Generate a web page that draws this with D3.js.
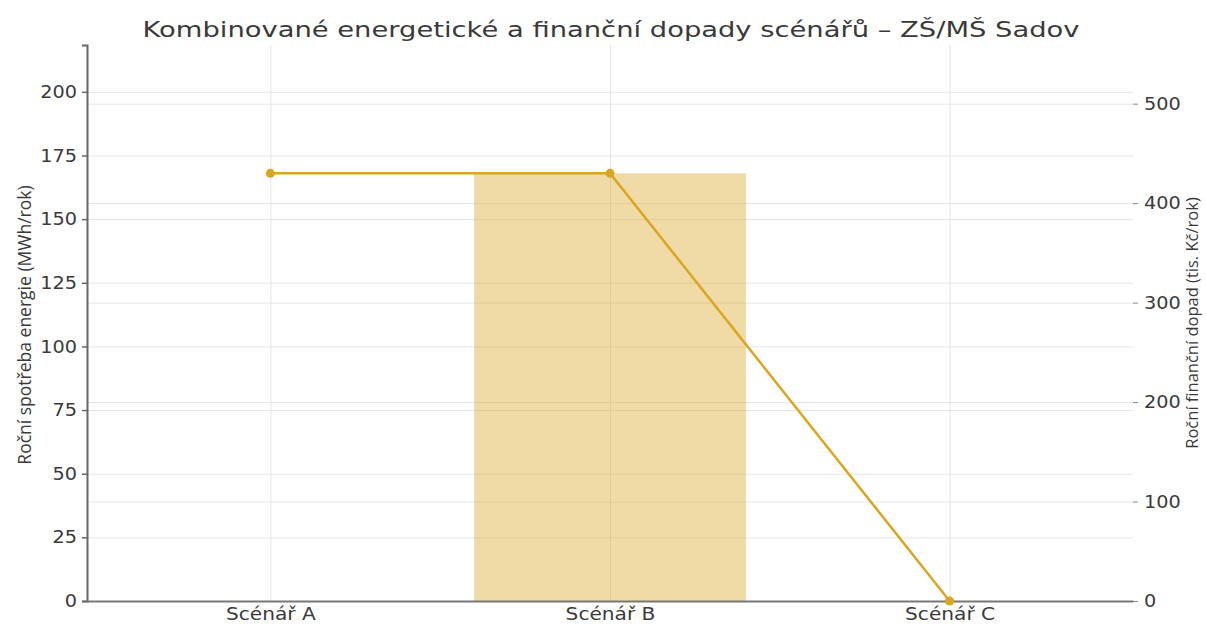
<!DOCTYPE html>
<html><head><meta charset="utf-8">
<script src="https://cdn.jsdelivr.net/npm/d3@7"></script>
<style>body{margin:0;background:#fff;} svg{display:block;font-family:"DejaVu Sans",sans-serif;}</style>
</head><body>
<svg id="chart" width="1206" height="624"></svg>
<script>
const categories = ["Scénář A", "Scénář B", "Scénář C"];
const energyValues = [0, 168, 0];          // MWh/rok (bars, left axis)
const financeValues = [430, 430, 0];       // tis. Kč/rok (line, right axis)
const leftTicks = [0, 25, 50, 75, 100, 125, 150, 175, 200];
const rightTicks = [0, 100, 200, 300, 400, 500];
const title = "Kombinované energetické a finanční dopady scénářů – ZŠ/MŠ Sadov";
const leftLabel = "Roční spotřeba energie (MWh/rok)";
const rightLabel = "Roční finanční dopad (tis. Kč/rok)";

const svg = d3.select("#chart");
const m = {left: 87, right: 1133, top: 45, bottom: 601};

const x = d3.scaleLinear().domain([-0.54, 2.54]).range([m.left, m.right]);
const yL = d3.scaleLinear().domain([0, d3.max(energyValues) * 1.3]).range([m.bottom, m.top]);
const yR = d3.scaleLinear().domain([0, d3.max(financeValues) * 1.3]).range([m.bottom, m.top]);

function stretch(sel, k) {
  sel.each(function () {
    const w = this.getComputedTextLength();
    d3.select(this).attr("textLength", w * k).attr("lengthAdjust", "spacingAndGlyphs");
  });
}

const grid = svg.append("g").attr("stroke", "#e6e6e6").attr("stroke-width", 1);
grid.selectAll(".gl").data(leftTicks).join("line")
  .attr("x1", m.left).attr("x2", m.right)
  .attr("y1", d => yL(d) + 0.5).attr("y2", d => yL(d) + 0.5);
grid.selectAll(".gr").data(rightTicks).join("line")
  .attr("x1", m.left).attr("x2", m.right)
  .attr("y1", d => yR(d) + 0.5).attr("y2", d => yR(d) + 0.5);
grid.selectAll(".gv").data(categories).join("line")
  .attr("x1", (d, i) => x(i) + 0.5).attr("x2", (d, i) => x(i) + 0.5)
  .attr("y1", m.top).attr("y2", m.bottom);

// bars
const bw = x(0.8) - x(0);
svg.append("g").selectAll("rect").data(energyValues).join("rect")
  .attr("x", (d, i) => x(i) - bw / 2).attr("width", bw)
  .attr("y", d => yL(d)).attr("height", d => yL(0) - yL(d))
  .attr("fill", "#daa520").attr("fill-opacity", 0.4);

// left axis
const axL = svg.append("g").attr("transform", `translate(${m.left},0)`)
  .call(d3.axisLeft(yL).tickValues(leftTicks).tickSize(5).tickPadding(5));
axL.select(".domain").attr("stroke", "#666").attr("stroke-width", 2);
axL.selectAll(".tick line").attr("stroke", "#666").attr("stroke-width", 1.5);
axL.selectAll("text").attr("font-size", 17.5).attr("fill", "#3a3a3a").attr("font-family", "DejaVu Sans");
stretch(axL.selectAll("text"), 1.1);

// right axis
const axR = svg.append("g").attr("transform", `translate(${m.right},0)`)
  .call(d3.axisRight(yR).tickValues(rightTicks).tickSize(5).tickPadding(6));
axR.select(".domain").remove();
axR.selectAll(".tick line").attr("stroke", "#888").attr("stroke-width", 1);
axR.selectAll("text").attr("font-size", 17.5).attr("fill", "#3a3a3a").attr("font-family", "DejaVu Sans");
stretch(axR.selectAll("text"), 1.1);

// bottom axis
const axB = svg.append("g").attr("transform", `translate(0,${m.bottom})`)
  .call(d3.axisBottom(x).tickValues([0, 1, 2]).tickFormat(i => categories[i]).tickSize(0).tickPadding(7));
axB.select(".domain").attr("stroke", "#777").attr("stroke-width", 2);
axB.selectAll("text").attr("font-size", 17.5).attr("fill", "#3a3a3a").attr("font-family", "DejaVu Sans");
stretch(axB.selectAll("text"), 1.15);

// line
const line = d3.line().x((d, i) => x(i)).y(d => yR(d));
svg.append("path").datum(financeValues).attr("d", line)
  .attr("fill", "none").attr("stroke", "#daa520").attr("stroke-width", 2.5);
svg.append("g").selectAll("circle").data(financeValues).join("circle")
  .attr("cx", (d, i) => x(i)).attr("cy", d => yR(d)).attr("r", 4.5)
  .attr("fill", "#daa520");

// title
svg.append("text").attr("x", 611).attr("y", 37)
  .attr("text-anchor", "middle").attr("font-size", 21).attr("fill", "#3a3a3a")
  .attr("textLength", 937).attr("lengthAdjust", "spacingAndGlyphs").text(title);

// axis labels
svg.append("text").attr("transform", `translate(31,325) rotate(-90)`)
  .attr("text-anchor", "middle").attr("font-size", 17.5).attr("fill", "#3a3a3a")
  .attr("font-family", "Open Sans").text(leftLabel);
svg.append("text").attr("transform", `translate(1198,323) rotate(-90)`)
  .attr("text-anchor", "middle").attr("font-size", 16.5).attr("fill", "#3a3a3a")
  .attr("font-family", "Open Sans").text(rightLabel);
</script>
</body></html>
